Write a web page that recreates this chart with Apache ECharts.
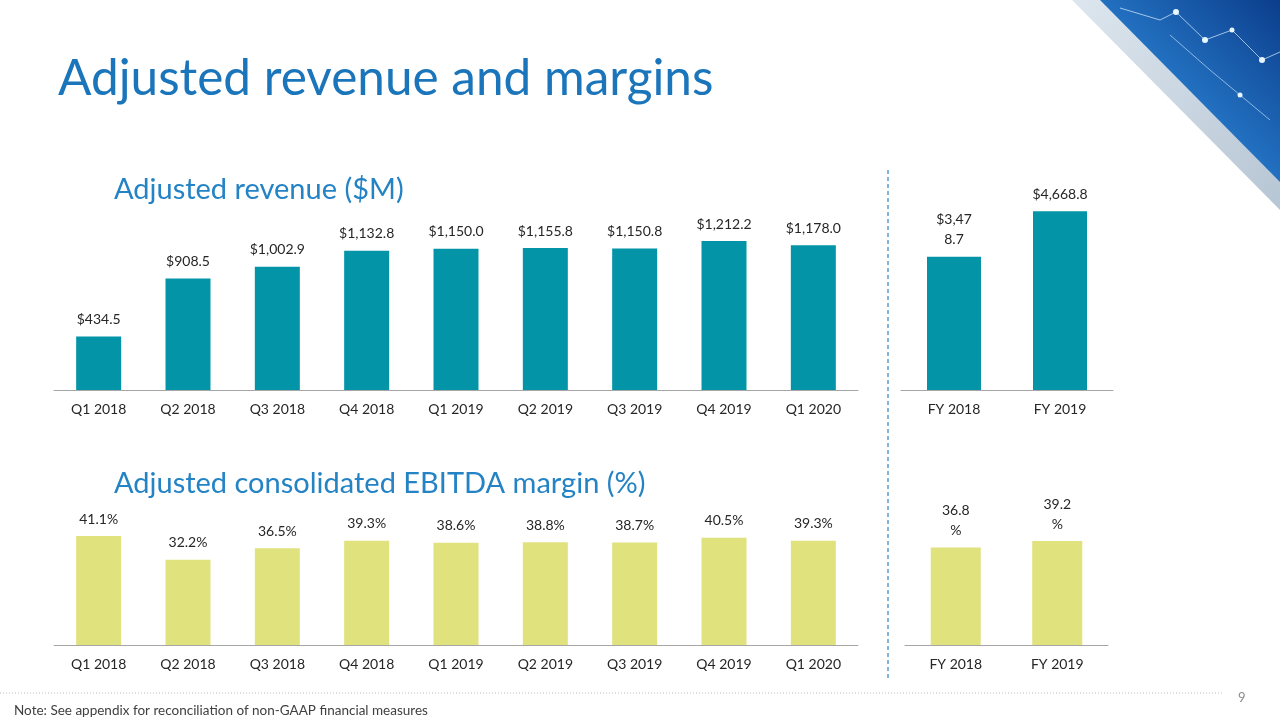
<!DOCTYPE html>
<html>
<head>
<meta charset="utf-8">
<script src="https://cdn.jsdelivr.net/npm/echarts@6/dist/echarts.min.js"></script>
<style>
html,body{margin:0;padding:0;background:#fff;}
#c{width:1280px;height:720px;}
</style>
</head>
<body>
<div id="c"></div>
<script>
// ---- data ----
var quarters = ['Q1 2018','Q2 2018','Q3 2018','Q4 2018','Q1 2019','Q2 2019','Q3 2019','Q4 2019','Q1 2020'];
var quarterRevenue = [434.5, 908.5, 1002.9, 1132.8, 1150.0, 1155.8, 1150.8, 1212.2, 1178.0];
var years = ['FY 2018','FY 2019'];
var yearRevenue = [3478.7, 4668.8];
var quarterMargin = [41.1, 32.2, 36.5, 39.3, 38.6, 38.8, 38.7, 40.5, 39.3];
var yearMargin = [36.8, 39.2];
// label wraps seen in the reference (characters per first line, 0 = no wrap)
var yearRevenueWrap = [5, 0];
var yearMarginWrap = [4, 4];

var FONT = 'Lato, "Noto Sans", sans-serif';
var TEAL = '#0395A7';
var LIME = '#E0E27E';
var TXT = '#262626';

function money(v){
  var s = v.toFixed(1).split('.');
  s[0] = s[0].replace(/\B(?=(\d{3})+(?!\d))/g, ',');
  return '$' + s.join('.');
}
function pct(v){ return v.toFixed(1) + '%'; }
function wrap(s, n){ return n > 0 ? s.slice(0, n) + '\n' + s.slice(n) : s; }

var chart = echarts.init(document.getElementById('c'), null, {renderer:'canvas'});

function xAx(idx, cats){
  return {
    type:'category', gridIndex: idx, data: cats,
    axisLine:{show:true, lineStyle:{color:'#A6A6A6', width:1}},
    axisTick:{show:false},
    axisLabel:{color:TXT, fontSize:14, fontFamily:FONT, margin:12, interval:0}
  };
}
function yAx(idx, max){
  return {type:'value', gridIndex: idx, min:0, max:max, show:false, splitLine:{show:false}};
}
function lbl(fmt){
  return {show:true, position:'top', distance:7, color:TXT, fontSize:14, fontFamily:FONT, lineHeight:20, formatter:fmt};
}

var option = {
  animation:false,
  backgroundColor:'#fff',
  title:[
    {text:'Adjusted revenue and margins', left:53, top:45,
     textStyle:{color:'#1B75BB', fontSize:49.5, fontWeight:'normal', fontFamily:FONT, lineHeight:58}},
    {text:'Adjusted revenue ($M)', left:109, top:168,
     textStyle:{color:'#2483C5', fontSize:29, fontWeight:'normal', fontFamily:FONT, lineHeight:34}},
    {text:'Adjusted consolidated EBITDA margin (%)', left:109, top:462,
     textStyle:{color:'#2483C5', fontSize:29, fontWeight:'normal', fontFamily:FONT, lineHeight:34}},
    {text:'Note: See appendix for reconciliation of non-GAAP financial measures', left:9, top:698,
     textStyle:{color:'#404040', fontSize:13.5, fontWeight:'normal', fontFamily:FONT, lineHeight:16}},
    {text:'9', left:1233, top:686,
     textStyle:{color:'#8C8C8C', fontSize:13, fontWeight:'normal', fontFamily:FONT, lineHeight:14}}
  ],
  grid:[
    {left:54, width:804, top:218, bottom:330},
    {left:901, width:212, top:198.5, bottom:330},
    {left:54, width:804, top:512.5, bottom:75},
    {left:905, width:203, top:512.5, bottom:75}
  ],
  xAxis:[xAx(0, quarters), xAx(1, years), xAx(2, quarters), xAx(3, years)],
  yAxis:[yAx(0, 1400), yAx(1, 5000), yAx(2, 50), yAx(3, 50)],
  series:[
    {type:'bar', xAxisIndex:0, yAxisIndex:0, data:quarterRevenue, barWidth:45,
     itemStyle:{color:TEAL}, label:lbl(function(p){return money(p.value);})},
    {type:'bar', xAxisIndex:1, yAxisIndex:1, data:yearRevenue, barWidth:54,
     itemStyle:{color:TEAL}, label:lbl(function(p){return wrap(money(p.value), yearRevenueWrap[p.dataIndex]);})},
    {type:'bar', xAxisIndex:2, yAxisIndex:2, data:quarterMargin, barWidth:45,
     itemStyle:{color:LIME}, label:lbl(function(p){return pct(p.value);})},
    {type:'bar', xAxisIndex:3, yAxisIndex:3, data:yearMargin, barWidth:50,
     itemStyle:{color:LIME}, label:lbl(function(p){return wrap(pct(p.value), yearMarginWrap[p.dataIndex]);})}
  ],
  graphic:[
    // vertical dashed separator
    {type:'line', shape:{x1:888, y1:170, x2:888, y2:678},
     style:{stroke:'#2E86C1', lineWidth:1.2, lineDash:[4,3]}},
    // dotted footer rule
    {type:'line', shape:{x1:0, y1:693, x2:1224, y2:693},
     style:{stroke:'#BFBFBF', lineWidth:1, lineDash:[1,2]}},
    // decorative corner
    {type:'polygon', shape:{points:[[1072,0],[1280,0],[1280,210]]},
     style:{fill:new echarts.graphic.LinearGradient(0,0,1,1,[
       {offset:0, color:'#DDE6EE'},{offset:1, color:'#B7C6D4'}])}},
    {type:'polygon', shape:{points:[[1100,0],[1280,0],[1280,182]]},
     style:{fill:new echarts.graphic.LinearGradient(0,1,1,0,[
       {offset:0, color:'#6FB6EA'},{offset:0.35, color:'#2A7FD0'},{offset:1, color:'#0B3E8C'}])}},
    {type:'polyline', shape:{points:[[1120,8],[1160,20],[1176,12],[1205,40],[1232,30],[1262,60],[1280,52]]},
     style:{stroke:'rgba(220,240,255,0.7)', lineWidth:1, fill:null}},
    {type:'polyline', shape:{points:[[1170,35],[1210,70],[1240,95],[1270,120]]},
     style:{stroke:'rgba(220,240,255,0.6)', lineWidth:1, fill:null}},
    {type:'circle', shape:{cx:1176, cy:12, r:3}, style:{fill:'#E8F6FF'}},
    {type:'circle', shape:{cx:1205, cy:40, r:3}, style:{fill:'#E8F6FF'}},
    {type:'circle', shape:{cx:1232, cy:30, r:2.5}, style:{fill:'#E8F6FF'}},
    {type:'circle', shape:{cx:1262, cy:60, r:3}, style:{fill:'#E8F6FF'}},
    {type:'circle', shape:{cx:1240, cy:95, r:2.5}, style:{fill:'#E8F6FF'}}
  ]
};
chart.setOption(option);
</script>
</body>
</html>
